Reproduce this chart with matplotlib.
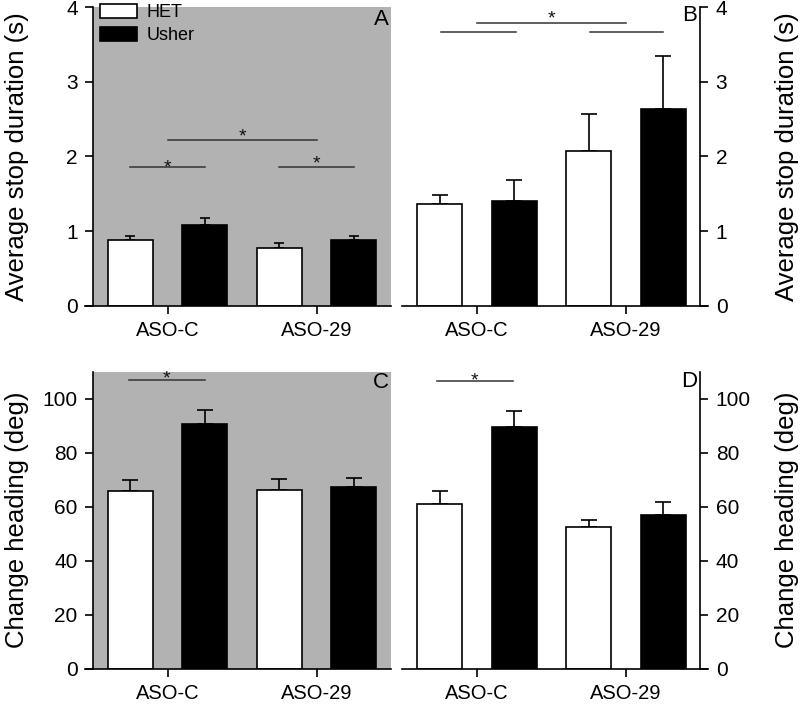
import numpy as np
import matplotlib
matplotlib.use("Agg")
import matplotlib.pyplot as plt
from matplotlib.patches import Patch

plt.rcParams['font.family'] = ['Liberation Sans', 'DejaVu Sans']

groups = ['ASO-C', 'ASO-29']

# A: average stop duration (shaded panel)
stop_het_A = [0.88, 0.78]
stop_het_A_err = [0.05, 0.065]
stop_usher_A = [1.08, 0.88]
stop_usher_A_err = [0.10, 0.05]

# B: average stop duration
stop_het_B = [1.36, 2.07]
stop_het_B_err = [0.12, 0.50]
stop_usher_B = [1.40, 2.64]
stop_usher_B_err = [0.29, 0.71]

# C: change heading (shaded panel)
head_het_C = [65.9, 66.1]
head_het_C_err = [3.9, 4.1]
head_usher_C = [90.8, 67.1]
head_usher_C_err = [4.9, 3.5]

# D: change heading
head_het_D = [61.1, 52.4]
head_het_D_err = [4.6, 2.8]
head_usher_D = [89.5, 56.9]
head_usher_D_err = [6.0, 4.8]

# significance bars: (x start, x end, line height, star height or None)
sig_A = [(-0.25, 0.25, 1.855, 1.93), (0.75, 1.25, 1.855, 1.99), (0.0, 1.0, 2.22, 2.355)]
sig_B = [(-0.24, 0.26, 3.67, None), (0.76, 1.25, 3.67, None), (0.0, 1.0, 3.79, 3.93)]
sig_C = [(-0.26, 0.25, 106.9, 109.6)]
sig_D = [(-0.27, 0.24, 106.6, 108.9)]


def draw_panel(ax, het, het_err, usher, usher_err, sig, ylim, yticks, ylabel,
               letter, letter_y, side, shaded, capsize):
    x = np.arange(len(groups))
    if shaded:
        ax.set_facecolor('#b2b2b2')
    zeros = np.zeros(len(groups))
    ax.errorbar(x - 0.25, het, yerr=[zeros, het_err], fmt='none', ecolor='black',
                elinewidth=1.2, capsize=capsize, capthick=1.2, zorder=1)
    ax.errorbar(x + 0.25, usher, yerr=[zeros, usher_err], fmt='none', ecolor='black',
                elinewidth=1.2, capsize=capsize, capthick=1.2, zorder=1)
    ax.bar(x - 0.25, het, width=0.3, color='white', edgecolor='black', linewidth=1.2, zorder=2)
    ax.bar(x + 0.25, usher, width=0.3, color='black', edgecolor='black', linewidth=1.2, zorder=2)

    for x0, x1, yl, ys in sig:
        ax.plot([x0, x1], [yl, yl], color='#333333', lw=1.1, zorder=3)
        if ys is not None:
            ax.annotate('*', xy=((x0 + x1) / 2, ys), xytext=(0, -8),
                        textcoords='offset points', ha='center', va='baseline',
                        fontsize=14, color='#111111')

    ax.set_xlim(-0.5, 1.5)
    ax.set_ylim(*ylim)
    ax.set_yticks(yticks)
    ax.set_xticks(x, groups)
    ax.tick_params(axis='both', labelsize=15, width=1.2, length=6, pad=5)
    ax.tick_params(axis='x', labelsize=14.5, pad=5)
    ax.spines['top'].set_visible(False)
    for s in ax.spines.values():
        s.set_linewidth(1.2)

    if side == 'right':
        ax.spines['left'].set_visible(False)
        ax.yaxis.tick_right()
        ax.yaxis.set_label_position('right')
        ax.set_ylabel(ylabel, fontsize=18.5, rotation=90)
        ax.yaxis.set_label_coords(1.25, 0.5)
        ax.spines['bottom'].set_bounds(-0.5, 1.55)
        ax.text(0.988, letter_y, letter, transform=ax.transAxes, ha='right',
                va='center', fontsize=16)
    else:
        ax.spines['right'].set_visible(False)
        ax.set_ylabel(ylabel, fontsize=18.5)
        ax.yaxis.set_label_coords(-0.215, 0.5)
        ax.spines['bottom'].set_bounds(-0.555, 1.5)
        ax.text(0.993, letter_y, letter, transform=ax.transAxes, ha='right',
                va='center', fontsize=16)


fig = plt.figure(figsize=(8, 7.06), dpi=100)
axA = fig.add_axes([0.11625, 0.567, 0.3725, 0.4227])
axB = fig.add_axes([0.503, 0.567, 0.3725, 0.4227])
axC = fig.add_axes([0.11625, 0.053, 0.3725, 0.4205])
axD = fig.add_axes([0.503, 0.053, 0.3725, 0.4205])

draw_panel(axA, stop_het_A, stop_het_A_err, stop_usher_A, stop_usher_A_err, sig_A,
           (0, 4), range(0, 5), 'Average stop duration (s)', 'A', 0.96, 'left', True, 3.6)
draw_panel(axB, stop_het_B, stop_het_B_err, stop_usher_B, stop_usher_B_err, sig_B,
           (0, 4), range(0, 5), 'Average stop duration (s)', 'B', 0.972, 'right', False, 6)
draw_panel(axC, head_het_C, head_het_C_err, head_usher_C, head_usher_C_err, sig_C,
           (0, 110), range(0, 101, 20), 'Change heading (deg)', 'C', 0.964, 'left', True, 6)
draw_panel(axD, head_het_D, head_het_D_err, head_usher_D, head_usher_D_err, sig_D,
           (0, 110), range(0, 101, 20), 'Change heading (deg)', 'D', 0.967, 'right', False, 6)

handles = [Patch(facecolor='white', edgecolor='black', linewidth=1.2),
           Patch(facecolor='black', edgecolor='black', linewidth=1.2)]
axA.legend(handles, ['HET', 'Usher'], loc='upper left', bbox_to_anchor=(0.022, 1.012),
           frameon=False, fontsize=13, handlelength=2.1, handleheight=0.85,
           handletextpad=0.5, labelspacing=0.3, borderpad=0, borderaxespad=0)

fig.savefig('out.png', dpi=100)
